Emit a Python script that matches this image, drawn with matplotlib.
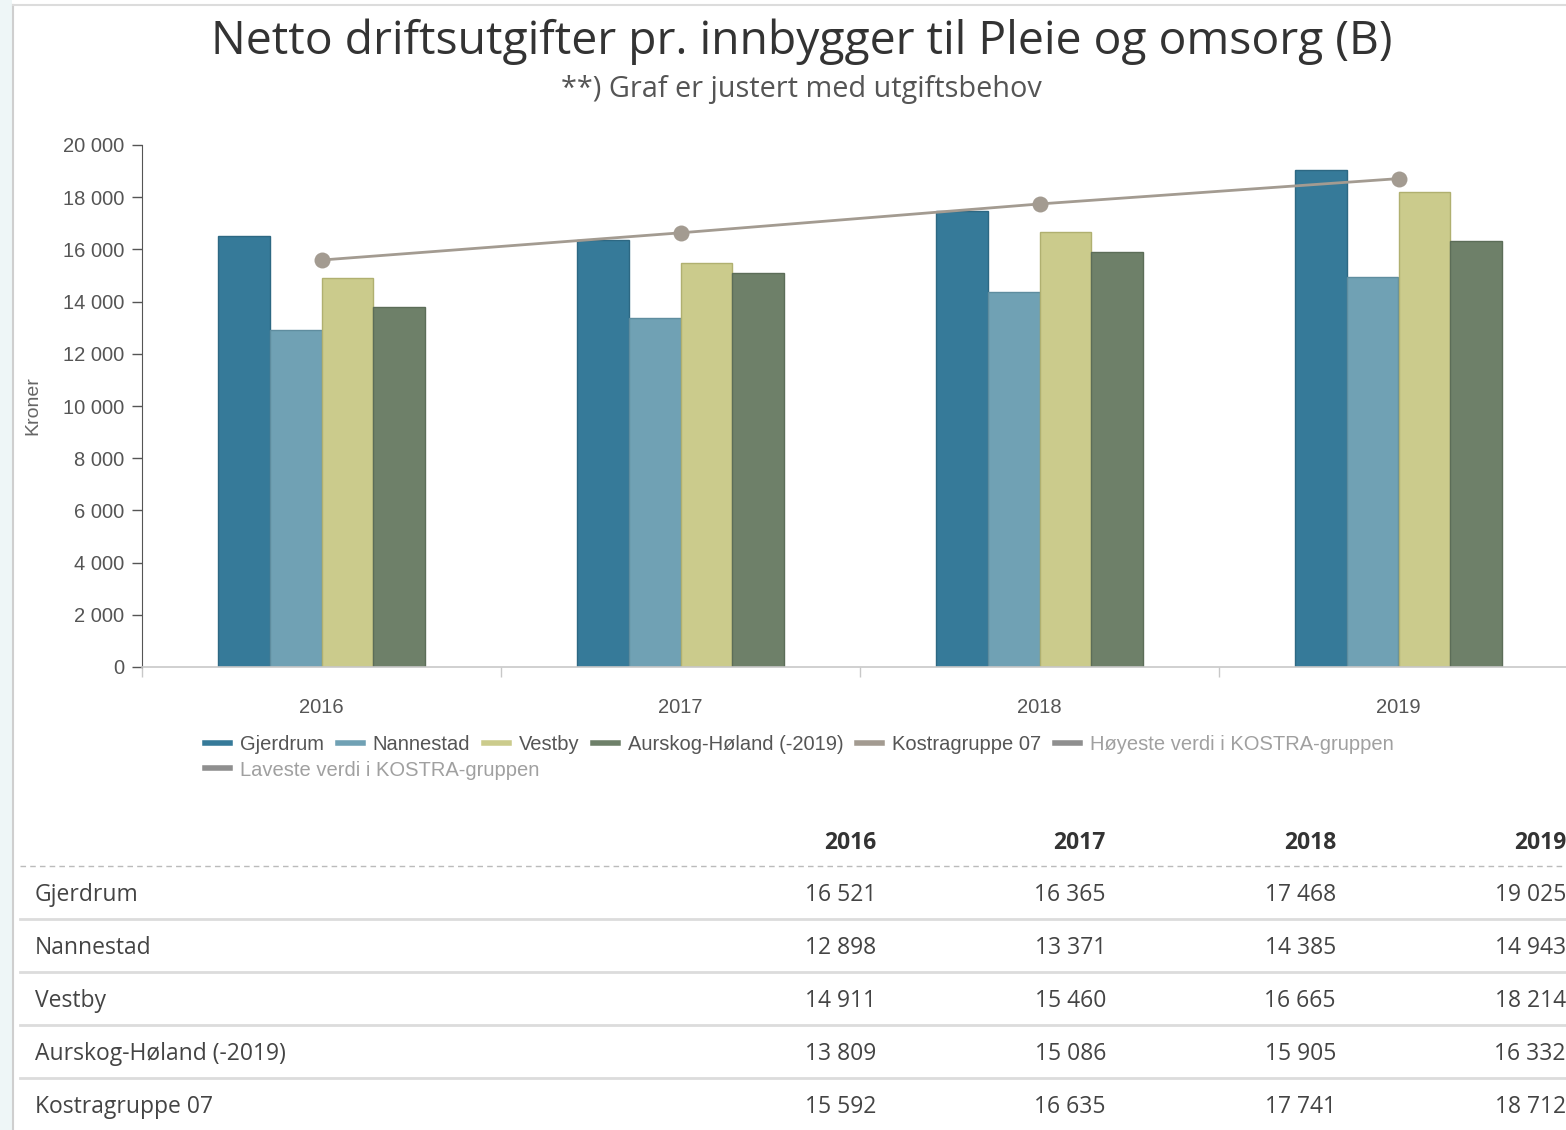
import numpy as np
import matplotlib.pyplot as plt
from matplotlib.lines import Line2D
from matplotlib.patches import Rectangle
from matplotlib.ticker import FuncFormatter

years = ["2016", "2017", "2018", "2019"]
series_names = ["Gjerdrum", "Nannestad", "Vestby", "Aurskog-Høland (-2019)"]
gjerdrum = [16521, 16365, 17468, 19025]
nannestad = [12898, 13371, 14385, 14943]
vestby = [14911, 15460, 16665, 18214]
aurskog = [13809, 15086, 15905, 16332]
kostra = [15592, 16635, 17741, 18712]
kostra_name = "Kostragruppe 07"
hidden_names = ["Høyeste verdi i KOSTRA-gruppen", "Laveste verdi i KOSTRA-gruppen"]

bar_colors = ["#367a99", "#70a1b4", "#cbcb8c", "#6e8069"]
edge_colors = ["#2d6883", "#5f8d9f", "#b0b070", "#5c6d58"]
kostra_color = "#a39b91"

W, H = 1566, 1130
fig = plt.figure(figsize=(W / 100, H / 100), dpi=100)

def fx(px):
    return px / W

def fy(py):
    return 1 - py / H

# page background and frame
fig.patches.append(Rectangle((0, 0), fx(12), 1, transform=fig.transFigure,
                             facecolor="#eef6f7", edgecolor="none", zorder=0))
fig.lines.append(Line2D([fx(12.5), fx(12.5)], [0, fy(5)], transform=fig.transFigure,
                        color="#cfcfcf", lw=1.5))
fig.lines.append(Line2D([fx(12.5), 1], [fy(5), fy(5)], transform=fig.transFigure,
                        color="#dcdcdc", lw=1.5))

# title
fig.text(fx(802), fy(42), "Netto driftsutgifter pr. innbygger til Pleie og omsorg (B)",
         ha="center", va="center", fontsize=33.3, family="Open Sans", fontweight=500,
         color="#333333")
fig.text(fx(801), fy(90), "**) Graf er justert med utgiftsbehov",
         ha="center", va="center", fontsize=20.8, family="Open Sans", color="#555555")

# chart
ax = fig.add_axes([fx(142), fy(667), fx(1578 - 142), fy(145) - fy(667)])
x = np.arange(len(years))
bw = 0.1435
all_series = [gjerdrum, nannestad, vestby, aurskog]
for i, vals in enumerate(all_series):
    ax.bar(x + (i - 1.5) * bw, vals, width=bw, color=bar_colors[i],
           edgecolor=edge_colors[i], linewidth=1, zorder=2)
ax.plot(x, kostra, color=kostra_color, lw=2, marker="o", markersize=11.5,
        markeredgewidth=0, zorder=3)

ax.set_xlim(-0.5, 3.5)
ax.set_ylim(0, 20000)
ax.set_yticks(np.arange(0, 20001, 2000))
ax.yaxis.set_major_formatter(FuncFormatter(lambda v, p: f"{int(v):,}".replace(",", " ")))
ax.set_xticks(x)
ax.set_xticklabels(years)
ax.set_xticks(np.arange(-0.5, 3.6, 1), minor=True)
ax.tick_params(axis="x", which="major", length=0, pad=22, labelsize=14.5,
               labelcolor="#555555")
ax.tick_params(axis="x", which="minor", length=7, width=1, color="#c8c8c8")
ax.tick_params(axis="y", length=7, width=1, color="#555555", pad=6,
               labelsize=14.5, labelcolor="#555555")
for lab in ax.get_xticklabels() + ax.get_yticklabels():
    lab.set_family("Liberation Sans")
for s in ["top", "right"]:
    ax.spines[s].set_visible(False)
ax.spines["left"].set_color("#555555")
ax.spines["bottom"].set_color("#c8c8c8")
ax.spines["bottom"].set_linewidth(1.2)
fig.text(fx(33), fy(406), "Kroner", rotation=90, ha="center", va="center",
         fontsize=14, family="Liberation Sans", color="#666666")

# legend
handles = [Line2D([], [], color=c, lw=4) for c in bar_colors]
handles += [Line2D([], [], color=kostra_color, lw=4), Line2D([], [], color="#8f8f8f", lw=4)]
labels = series_names + [kostra_name, hidden_names[0]]
leg_kw = dict(frameon=False, handlelength=1.25, handletextpad=0.5,
              columnspacing=0.66, borderpad=0, borderaxespad=0,
              prop={"family": "Liberation Sans", "size": 14.5})
leg1 = fig.legend(handles, labels, ncol=6, loc="center left",
                  bbox_to_anchor=(fx(205), fy(745)), **leg_kw)
for i, t in enumerate(leg1.get_texts()):
    t.set_color("#555555" if i < 5 else "#a0a0a0")
leg2 = fig.legend([Line2D([], [], color="#8f8f8f", lw=4)], [hidden_names[1]],
                  loc="center left", bbox_to_anchor=(fx(205), fy(770)), **leg_kw)
leg2.get_texts()[0].set_color("#a0a0a0")

# table
col_right = [876, 1106, 1336, 1566]
for j, yr in enumerate(years):
    fig.text(fx(col_right[j]), fy(843), yr, ha="right", va="center", fontsize=16.5,
             family="Open Sans", fontweight="bold", color="#333333")
fig.lines.append(Line2D([fx(20), 1], [fy(866), fy(866)], transform=fig.transFigure,
                        color="#bbbbbb", lw=1, ls=(0, (4, 3))))
row_names = series_names + [kostra_name]
row_vals = all_series + [kostra]
for i, (name, vals) in enumerate(zip(row_names, row_vals)):
    yc = 892 + 53 * i
    fig.text(fx(35), fy(yc + 3), name, ha="left", va="center", fontsize=16.5,
             family="Open Sans", color="#444444")
    for j, v in enumerate(vals):
        fig.text(fx(col_right[j]), fy(yc + 3), f"{v:,}".replace(",", " "), ha="right",
                 va="center", fontsize=16.5, family="Open Sans", color="#444444")
    if i < len(row_names) - 1:
        ys = yc + 26.5
        fig.lines.append(Line2D([fx(20), 1], [fy(ys), fy(ys)], transform=fig.transFigure,
                                color="#dcdcdc", lw=2))

fig.savefig("out.png", dpi=100)
